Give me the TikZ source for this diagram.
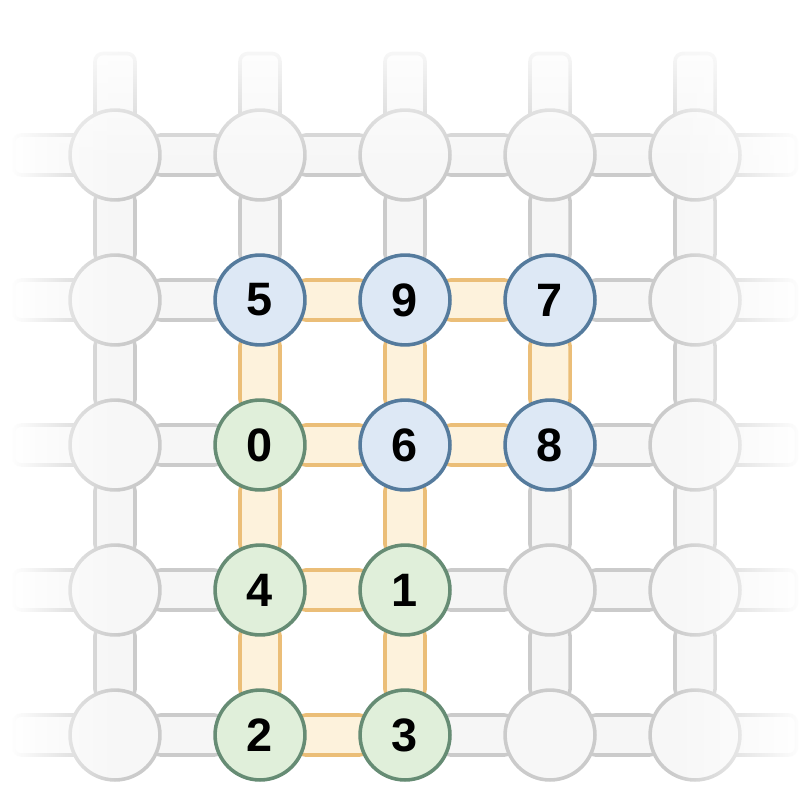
\documentclass[tikz,border=0pt]{standalone}
\usepackage{fontspec}
\setsansfont{Liberation Sans}
\usetikzlibrary{fadings}

\definecolor{siteline}{HTML}{CBCBCB}
\definecolor{sitefill}{HTML}{F7F7F7}
\definecolor{barfill}{HTML}{F6F6F6}
\definecolor{bluline}{HTML}{557B9D}
\definecolor{blufill}{HTML}{DDE8F5}
\definecolor{grnline}{HTML}{668C74}
\definecolor{grnfill}{HTML}{E0EFDA}
\definecolor{hotline}{HTML}{EBBE78}
\definecolor{hotfill}{HTML}{FDF2DC}

\tikzfading[name=fadeleft,left color=transparent!0,right color=transparent!100]
\tikzfading[name=faderight,left color=transparent!100,right color=transparent!0]
\tikzfading[name=fadetop,top color=transparent!0,bottom color=transparent!100]

\pgfdeclarelayer{background layer}
\pgfsetlayers{background layer,main}
\tikzstyle{site}=[circle,draw=siteline,fill=sitefill,line width=0.7pt,inner sep=0pt,minimum size=0.62cm,font=\sffamily\bfseries\fontsize{9.2}{9.2}\selectfont]
\tikzstyle{blu}=[site,draw=bluline,fill=blufill]
\tikzstyle{grn}=[site,draw=grnline,fill=grnfill]
\tikzstyle{bar}=[rectangle,rounded corners=0.055cm,sloped,draw=siteline,fill=barfill,line width=0.7pt,inner sep=0pt,minimum width=0.48cm,minimum height=0.276cm]
\tikzstyle{hot}=[bar,draw=hotline,fill=hotfill]

\begin{document}
\begin{tikzpicture}
			\useasboundingbox (-0.7931,1.069) rectangle (4.8,-4.517);
			
			% idle sites
			\foreach \x/\y in {0/0,1/0,2/0,3/0,4/0,0/1,4/1,0/2,4/2,0/3,3/3,4/3,0/4,3/4,4/4}
				\node (p\x\y) at (\x,-\y) [site] {};
			
			\node (p11) at (1,-1) [blu] {5};
			\node (p21) at (2,-1) [blu] {9};
			\node (p31) at (3,-1) [blu] {7};
			\node (p12) at (1,-2) [grn] {0};
			\node (p22) at (2,-2) [blu] {6};
			\node (p32) at (3,-2) [blu] {8};
			\node (p13) at (1,-3) [grn] {4};
			\node (p23) at (2,-3) [grn] {1};
			\node (p14) at (1,-4) [grn] {2};
			\node (p24) at (2,-4) [grn] {3};
			
			\foreach \x in {0,...,4} {
				\coordinate (t\x) at (\x,0.92);
				\coordinate (l\x) at (-0.92,-\x);
				\coordinate (r\x) at (4.92,-\x);
			}
			
			\begin{pgfonlayer}{background layer}
				% free ends
				\foreach \x in {0,...,4} {
					\path (t\x) -- (p\x0.center) node [midway,bar] {};
					\path (l\x) -- (p0\x.center) node [midway,bar] {};
					\path (r\x) -- (p4\x.center) node [midway,bar] {};
				}
				\foreach \a/\b in {p00/p10,p10/p20,p20/p30,p30/p40,p01/p11,p31/p41,p02/p12,p32/p42,
					p03/p13,p23/p33,p33/p43,p04/p14,p24/p34,p34/p44,
					p00/p01,p01/p02,p02/p03,p03/p04,p10/p11,p20/p21,p30/p31,p32/p33,p33/p34,
					p40/p41,p41/p42,p42/p43,p43/p44}
					\path (\a) -- (\b) node [midway,bar] {};
				\foreach \a/\b in {p11/p21,p21/p31,p12/p22,p22/p32,p13/p23,p14/p24,
					p11/p12,p12/p13,p13/p14,p21/p22,p22/p23,p23/p24,p31/p32}
					\path (\a) -- (\b) node [midway,hot] {};
			\end{pgfonlayer}
			
			\fill [white] (-0.7931,1.069) rectangle (-0.72,-4.517);
			\fill [white,path fading=fadeleft] (-0.72,1.069) rectangle (0.03,-4.517);
			\fill [white] (-0.7931,1.069) rectangle (4.8,0.86);
			\fill [white,path fading=fadetop] (-0.7931,0.86) rectangle (4.8,-0.1);
			\fill [white,path fading=faderight] (3.83,1.069) rectangle (4.74,-4.517);
			\fill [white] (4.74,1.069) rectangle (4.8,-4.517);
		\end{tikzpicture}
\end{document}
